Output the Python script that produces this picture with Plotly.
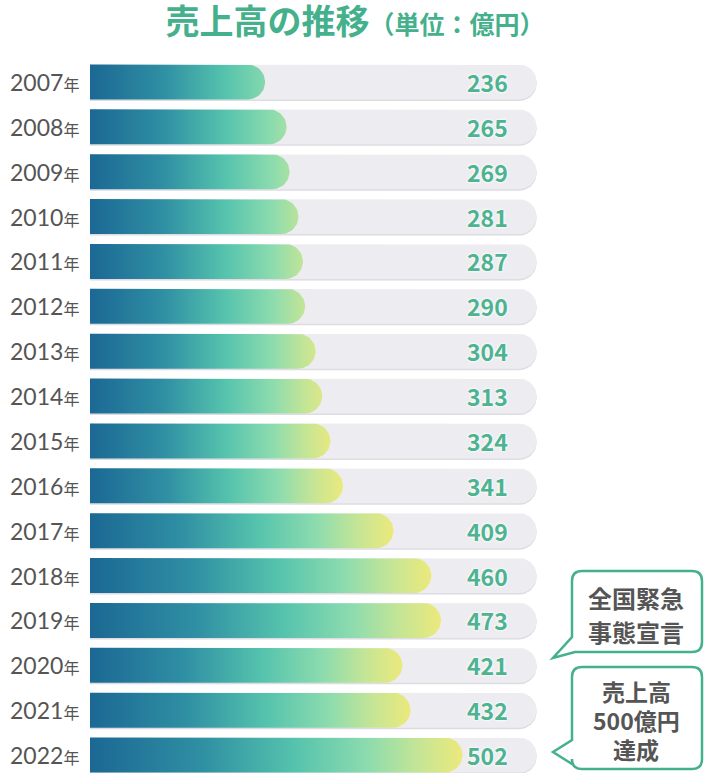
import numpy as np
import plotly.graph_objects as go

# data
years = ["2007", "2008", "2009", "2010", "2011", "2012", "2013", "2014",
         "2015", "2016", "2017", "2018", "2019", "2020", "2021", "2022"]
sales = [236, 265, 269, 281, 287, 290, 304, 313, 324, 341, 409, 460, 473, 421, 432, 502]
track_max = 602
title_main = "売上高の推移"
title_unit = "（単位：億円）"
callout_1 = ["全国緊急", "事態宣言"]
callout_2 = ["売上高", "500億円", "達成"]

# layout constants (pixels)
W, H = 710, 773
PX_PER_UNIT = 0.742      # horizontal pixels per 億円
ROW_PX = 44.87           # vertical pixels per row
X0_PX = 90               # pixel of value 0
Y0_PX = 82               # pixel of first row centre
HALF_PX = 17.5           # half bar height

GREEN = "#45b08c"
VALUE_GREEN = "#4db391"
GREY_TEXT = "#555555"
COLORSCALE = [[0.0, "#1b6894"], [0.3, "#2f8fa3"], [0.55, "#55c3ad"],
              [0.75, "#8edcae"], [0.88, "#c4e596"], [1.0, "#ece97c"]]

x_range = [-X0_PX / PX_PER_UNIT, (W - X0_PX) / PX_PER_UNIT]
y_top = -Y0_PX / ROW_PX
y_range = [y_top + H / ROW_PX, y_top]   # reversed: first year on top

rx = HALF_PX / PX_PER_UNIT
ry = HALF_PX / ROW_PX


def pill(value, row, dy=0.0):
    """Bar outline with a rounded right end, in data units."""
    yc = row + dy
    t = np.linspace(-np.pi / 2, np.pi / 2, 30)
    xs = [0, value - rx] + list(value - rx + rx * np.cos(t)) + [value - rx, 0, 0]
    ys = [yc - ry, yc - ry] + list(yc + ry * np.sin(t)) + [yc + ry, yc + ry, yc - ry]
    return xs, ys


def px_to_paper(x, y):
    return x / W, 1 - y / H


def bubble_path(left, top, right, bottom, tip, base_top, base_bottom, r=10):
    """Speech bubble with the pointer on the left edge, built in pixels."""
    pts = []
    def P(cmd, x, y):
        px, py = px_to_paper(x, y)
        pts.append(f"{cmd}{px:.5f},{py:.5f}")
    def Q(cx, cy, x, y):
        a, b = px_to_paper(cx, cy)
        c, d = px_to_paper(x, y)
        pts.append(f"Q{a:.5f},{b:.5f} {c:.5f},{d:.5f}")
    P("M", left + r, top)
    P("L", right - r, top)
    Q(right, top, right, top + r)
    P("L", right, bottom - r)
    Q(right, bottom, right - r, bottom)
    if base_bottom is None:
        P("L", left + 3, bottom)
        P("L", tip[0], tip[1])
        P("L", left, base_top)
    else:
        P("L", left + r, bottom)
        Q(left, bottom, left, bottom - r)
        P("L", left, base_bottom)
        P("L", tip[0], tip[1])
        P("L", left, base_top)
    P("L", left, top + r)
    Q(left, top, left + r, top)
    pts.append("Z")
    return " ".join(pts)


fig = go.Figure()

# background tracks (shadow + body)
for dy, color in [(1.5 / ROW_PX, "#dcdce2"), (0.0, "#ededf1")]:
    tx, ty = [], []
    for i in range(len(years)):
        xs, ys = pill(track_max, i, dy)
        tx += xs + [None]
        ty += ys + [None]
    fig.add_trace(go.Scatter(x=tx, y=ty, mode="lines", fill="toself",
                             fillcolor=color, line=dict(width=0),
                             hoverinfo="skip", showlegend=False))

# gradient bars
for i, (yr, v) in enumerate(zip(years, sales)):
    xs, ys = pill(v, i)
    fig.add_trace(go.Scatter(
        x=xs, y=ys, mode="lines", fill="toself",
        fillgradient=dict(type="horizontal", colorscale=COLORSCALE,
                          start=0, stop=max(v, 330)),
        line=dict(width=0), hoverinfo="skip", showlegend=False, name=yr))

annotations = []
value_x = (487 - X0_PX) / PX_PER_UNIT
for i, (yr, v) in enumerate(zip(years, sales)):
    annotations.append(dict(
        x=8 / W, xref="paper", y=i, yref="y", xanchor="left", yanchor="middle",
        text=f"{yr}<span style='font-size:16px'>年</span>", showarrow=False,
        font=dict(family="Lato, 'Noto Sans CJK JP'", size=23, color=GREY_TEXT)))
    annotations.append(dict(
        x=value_x, xref="x", y=i, yref="y", xanchor="center", yanchor="middle",
        text=str(v), showarrow=False,
        font=dict(family="'Noto Sans CJK JP'", size=23, color=VALUE_GREEN,
                  weight="bold", shadow="0 0 3px #ffffff, 0 0 3px #ffffff")))

# callout texts, one annotation per line
for lines, y_lines, size in [(callout_1, [597, 631], 24), (callout_2, [691, 720, 749], 23)]:
    for line, y_px in zip(lines, y_lines):
        x, y = px_to_paper(636, y_px)
        annotations.append(dict(
            x=x, y=y, xref="paper", yref="paper", xanchor="center", yanchor="middle",
            text=line, showarrow=False, borderpad=0,
            font=dict(family="'Noto Sans CJK JP'", size=size, color=GREY_TEXT,
                      weight="bold")))

shapes = [
    dict(type="path", xref="paper", yref="paper",
         path=bubble_path(572, 571, 702, 652, (553, 658), 637, None),
         fillcolor="white", line=dict(color=GREEN, width=2.5)),
    dict(type="path", xref="paper", yref="paper",
         path=bubble_path(572, 667, 702, 769, (553, 752), 740, 764),
         fillcolor="white", line=dict(color=GREEN, width=2.5)),
]

tx, ty = px_to_paper(355, 22)
fig.update_layout(
    width=W, height=H, autosize=False,
    margin=dict(l=0, r=0, t=0, b=0),
    paper_bgcolor="white", plot_bgcolor="white",
    title=dict(
        text=f"{title_main}<span style='font-size:25px'>{title_unit}</span>",
        x=tx, xref="container", xanchor="center",
        y=ty, yref="container", yanchor="middle",
        font=dict(family="'Noto Sans CJK JP'", size=34, color=GREEN, weight="bold")),
    xaxis=dict(range=x_range, visible=False, fixedrange=True),
    yaxis=dict(range=y_range, visible=False, fixedrange=True),
    annotations=annotations,
    shapes=shapes,
    showlegend=False,
)

# page body has a default 8px margin; drop it so the figure fills the window
fig.write_html("out.html",
               config={"displayModeBar": False},
               post_script="document.body.style.margin='0';"
                           "document.body.style.overflow='hidden';")
